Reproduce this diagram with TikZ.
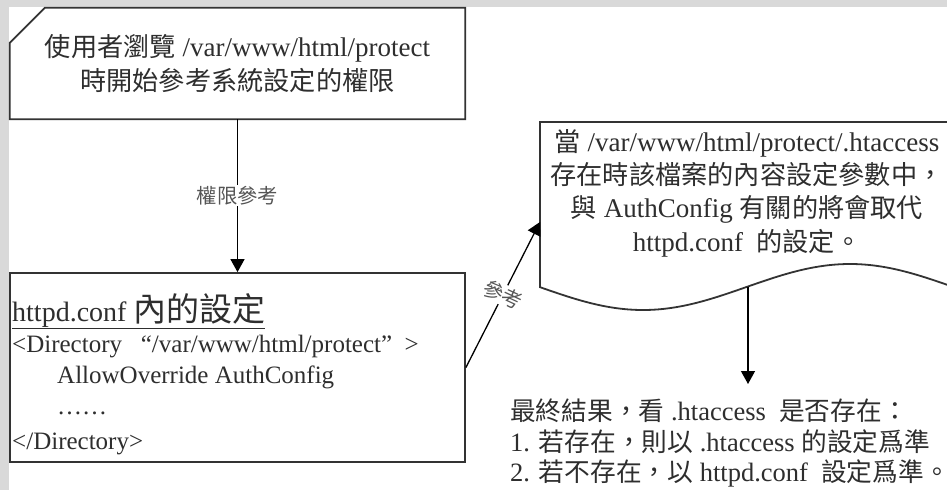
\documentclass[tikz,border=0pt]{standalone}
\usepackage{fontspec}
\setmainfont{Liberation Serif}
\newfontfamily\cjk[Scale=0.97]{Noto Sans CJK TC}
\usepackage{tikz}
\usetikzlibrary{calc,arrows.meta}
\usetikzlibrary{positioning}
\definecolor{wp-bg}{HTML}{D9D9D9}
\definecolor{wp-text}{HTML}{2E2E2E}
\definecolor{wp-line}{HTML}{333333}
\definecolor{wp-label}{HTML}{555555}
\newcommand{\zh}[1]{{\cjk #1}}

\begin{document}
\begin{tikzpicture}[x=1pt, y=-1pt,
    >={Triangle[length=13pt, width=14pt]},
    boxline/.style={draw=wp-line, line width=1.8pt},
    arrowline/.style={->, draw=black, line width=1.3pt},
    plaintext/.style={text=wp-text, font=\fontsize{27}{34}\selectfont, inner sep=0pt},
    reflabel/.style={text=wp-label, font=\fontsize{21}{21}\selectfont, fill=white, inner sep=1pt}]

    % --- Canvas ---
    \useasboundingbox (0,0) rectangle (947,490);
    \fill[wp-bg] (0,0) rectangle (947,490);
    \fill[white] (9,7) rectangle (947,490);

    % --- Top box with cut corner ---
    \node[plaintext, align=center, minimum width=455, minimum height=111] (ask) at (237.5,63.5)
        {\zh{使用者瀏覽} /var/www/html/protect\\ \zh{時開始參考系統設定的權限}};
    \draw[boxline] ([xshift=35pt]ask.north west) -- (ask.north east) -- (ask.south east)
        -- (ask.south west) -- ([yshift=-35pt]ask.north west) -- cycle;

    % --- httpd.conf box ---
    \node[boxline, minimum width=455, minimum height=189] (conf) at (237.5,367.5) {};
    \node[plaintext, align=left, anchor=west, font=\fontsize{25}{31}\selectfont] (confbody) at (12,374)
        {{\fontsize{28}{30}\selectfont\underline{httpd.conf \zh{\fontsize{34}{30}\selectfont 內的設定}}}\\
         <Directory \ \ “/var/www/html/protect” \ >\\
         \hspace*{45pt}AllowOverride AuthConfig\\
         \hspace*{45pt}……\\[4pt]
         </Directory>};

    % --- .htaccess document with wavy bottom ---
    \draw[boxline] (947,122) -- (540,122) -- (540,287)
        -- plot[domain=540:947, samples=80, smooth] (\x, {287-23*cos(0.8696*(\x-850))});
    \node[plaintext, align=center, font=\fontsize{27}{33.3}\selectfont] (doc) at (747,193)
        {\zh{當} /var/www/html/protect/.htaccess\\
         \zh{存在時該檔案的內容設定參數中，}\\
         \zh{與} AuthConfig \zh{有關的將會取代}\\
         httpd.conf \ \zh{的設定。}};
    \coordinate (docin) at (540,222);
    \coordinate (docout) at (748,286.5);

    % --- Final result ---
    \node[plaintext, align=left, anchor=west, font=\fontsize{26.5}{30.5}\selectfont] (result) at (510,443)
        {\zh{最終結果，看} .htaccess \ \zh{是否存在：}\\
         1. \zh{若存在，則以} .htaccess \zh{的設定爲準}\\
         2. \zh{若不存在，以} httpd.conf \ \zh{設定爲準。}};
    \coordinate (resulttop) at (748,384);

    % --- Connectors ---
    \draw[arrowline] (ask.south) -- node[reflabel] {\zh{權限參考}} (conf.north);
    \draw[arrowline] (conf.east) -- node[reflabel, rotate=-25] {\zh{參考}} (docin);
    \draw[arrowline] (docout) -- (resulttop);
\end{tikzpicture}
\end{document}
